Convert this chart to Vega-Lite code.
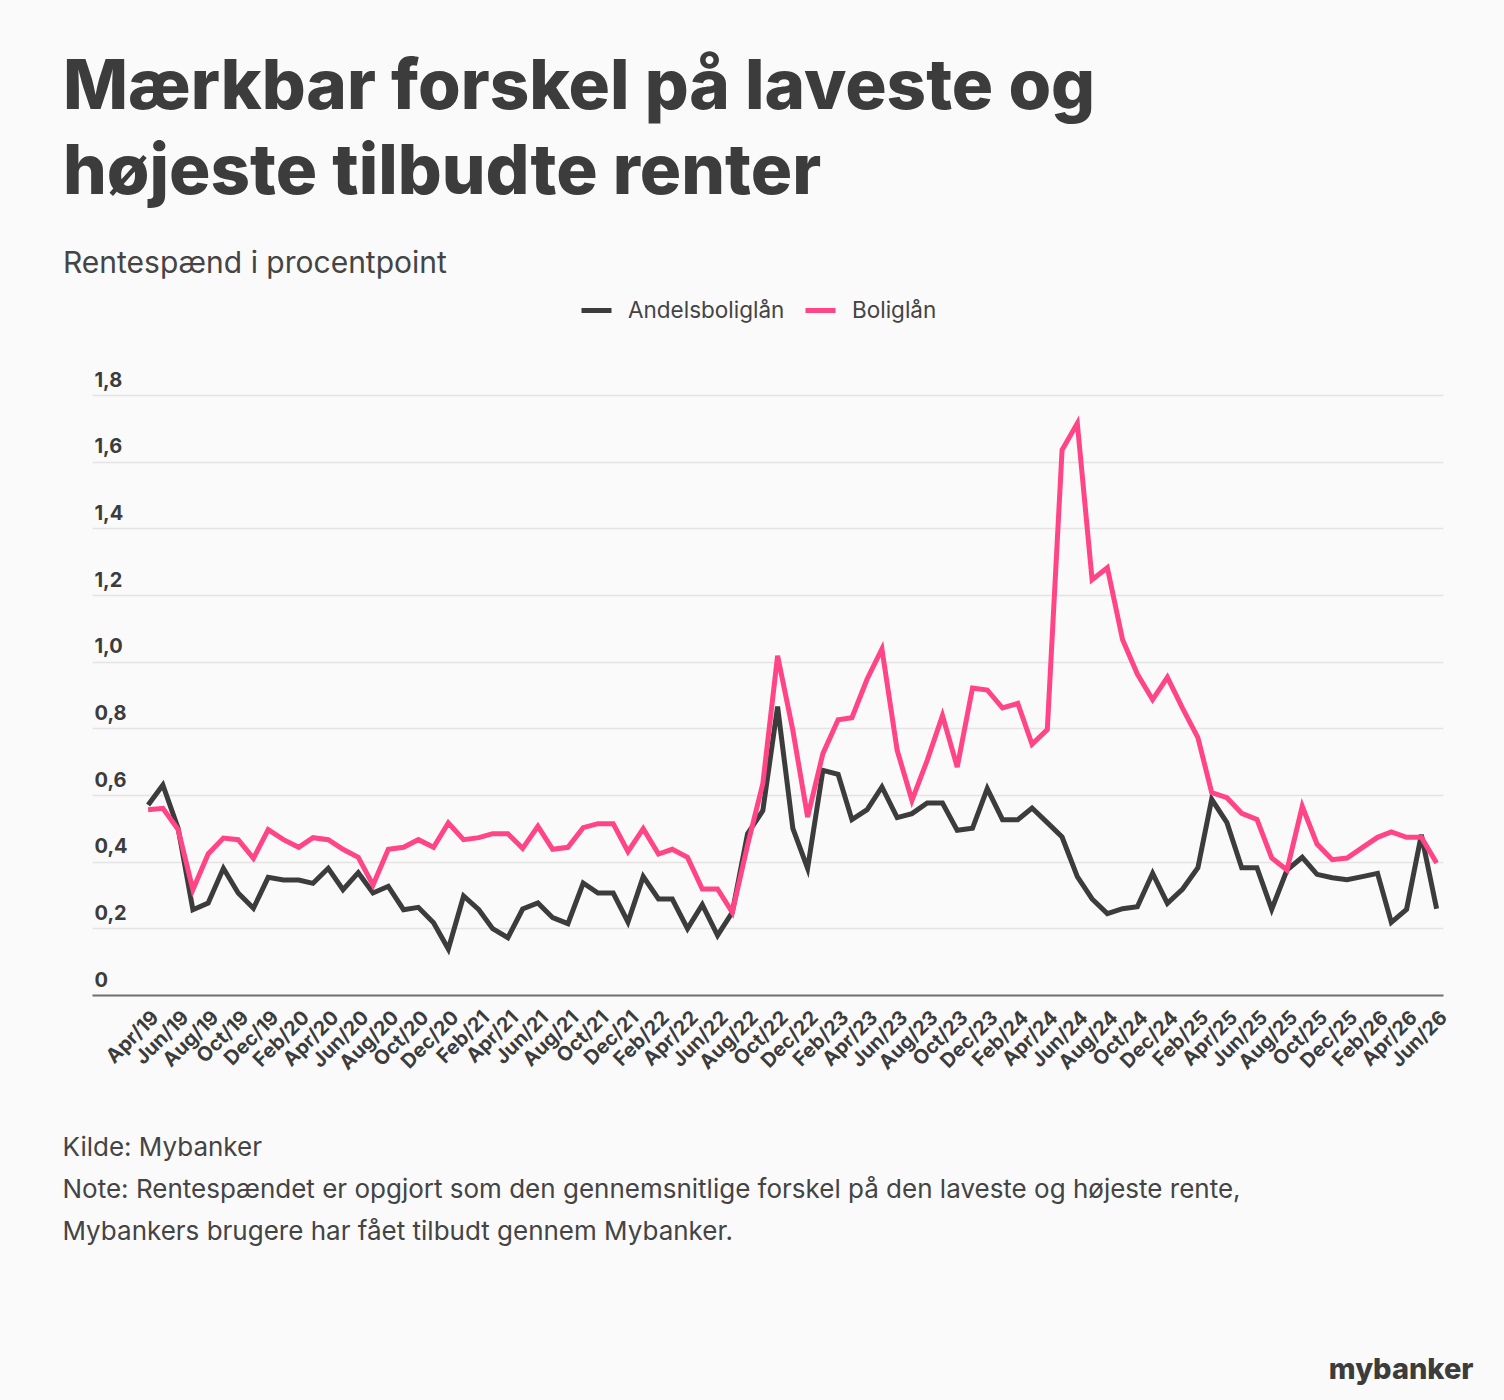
{
  "$schema": "https://vega.github.io/schema/vega-lite/v6.json",
  "width": 1351,
  "height": 600,
  "autosize": {"type": "none"},
  "padding": {"left": 92, "top": 395, "right": 61, "bottom": 405},
  "background": "#fafafa",
  "view": {"stroke": null},
  "title": {
    "text": ["Mærkbar forskel på laveste og", "højeste tilbudte renter"],
    "subtitle": "Rentespænd i procentpoint",
    "anchor": "start",
    "frame": "group",
    "dx": -29,
    "font": "Inter",
    "fontSize": 69,
    "fontWeight": 800,
    "color": "#3c3c3c",
    "lineHeight": 85,
    "subtitleFont": "Inter",
    "subtitleFontSize": 30,
    "subtitleFontWeight": "normal",
    "subtitleColor": "#444444",
    "subtitlePadding": 41,
    "offset": 14
  },
  "data": {
    "values": [
      {"date": "2019-04-01", "Andelsboliglån": 0.57, "Boliglån": 0.556},
      {"date": "2019-05-01", "Andelsboliglån": 0.63, "Boliglån": 0.56},
      {"date": "2019-06-01", "Andelsboliglån": 0.5, "Boliglån": 0.496},
      {"date": "2019-07-01", "Andelsboliglån": 0.256, "Boliglån": 0.316},
      {"date": "2019-08-01", "Andelsboliglån": 0.276, "Boliglån": 0.423},
      {"date": "2019-09-01", "Andelsboliglån": 0.38, "Boliglån": 0.471},
      {"date": "2019-10-01", "Andelsboliglån": 0.306, "Boliglån": 0.466},
      {"date": "2019-11-01", "Andelsboliglån": 0.26, "Boliglån": 0.41},
      {"date": "2019-12-01", "Andelsboliglån": 0.353, "Boliglån": 0.496},
      {"date": "2020-01-01", "Andelsboliglån": 0.345, "Boliglån": 0.466},
      {"date": "2020-02-01", "Andelsboliglån": 0.345, "Boliglån": 0.443},
      {"date": "2020-03-01", "Andelsboliglån": 0.335, "Boliglån": 0.472},
      {"date": "2020-04-01", "Andelsboliglån": 0.38, "Boliglån": 0.466},
      {"date": "2020-05-01", "Andelsboliglån": 0.316, "Boliglån": 0.437},
      {"date": "2020-06-01", "Andelsboliglån": 0.367, "Boliglån": 0.413},
      {"date": "2020-07-01", "Andelsboliglån": 0.306, "Boliglån": 0.33},
      {"date": "2020-08-01", "Andelsboliglån": 0.326, "Boliglån": 0.437},
      {"date": "2020-09-01", "Andelsboliglån": 0.256, "Boliglån": 0.443},
      {"date": "2020-10-01", "Andelsboliglån": 0.263, "Boliglån": 0.466},
      {"date": "2020-11-01", "Andelsboliglån": 0.217, "Boliglån": 0.443},
      {"date": "2020-12-01", "Andelsboliglån": 0.138, "Boliglån": 0.516},
      {"date": "2021-01-01", "Andelsboliglån": 0.297, "Boliglån": 0.466},
      {"date": "2021-02-01", "Andelsboliglån": 0.256, "Boliglån": 0.472},
      {"date": "2021-03-01", "Andelsboliglån": 0.199, "Boliglån": 0.484},
      {"date": "2021-04-01", "Andelsboliglån": 0.172, "Boliglån": 0.484},
      {"date": "2021-05-01", "Andelsboliglån": 0.258, "Boliglån": 0.44},
      {"date": "2021-06-01", "Andelsboliglån": 0.276, "Boliglån": 0.506},
      {"date": "2021-07-01", "Andelsboliglån": 0.232, "Boliglån": 0.437},
      {"date": "2021-08-01", "Andelsboliglån": 0.214, "Boliglån": 0.443},
      {"date": "2021-09-01", "Andelsboliglån": 0.336, "Boliglån": 0.502},
      {"date": "2021-10-01", "Andelsboliglån": 0.306, "Boliglån": 0.514},
      {"date": "2021-11-01", "Andelsboliglån": 0.306, "Boliglån": 0.514},
      {"date": "2021-12-01", "Andelsboliglån": 0.219, "Boliglån": 0.43},
      {"date": "2022-01-01", "Andelsboliglån": 0.355, "Boliglån": 0.499},
      {"date": "2022-02-01", "Andelsboliglån": 0.288, "Boliglån": 0.423},
      {"date": "2022-03-01", "Andelsboliglån": 0.288, "Boliglån": 0.437},
      {"date": "2022-04-01", "Andelsboliglån": 0.199, "Boliglån": 0.413},
      {"date": "2022-05-01", "Andelsboliglån": 0.271, "Boliglån": 0.318},
      {"date": "2022-06-01", "Andelsboliglån": 0.179, "Boliglån": 0.318},
      {"date": "2022-07-01", "Andelsboliglån": 0.248, "Boliglån": 0.248},
      {"date": "2022-08-01", "Andelsboliglån": 0.484, "Boliglån": 0.45},
      {"date": "2022-09-01", "Andelsboliglån": 0.553, "Boliglån": 0.634},
      {"date": "2022-10-01", "Andelsboliglån": 0.865, "Boliglån": 1.018},
      {"date": "2022-11-01", "Andelsboliglån": 0.5, "Boliglån": 0.794},
      {"date": "2022-12-01", "Andelsboliglån": 0.38, "Boliglån": 0.534},
      {"date": "2023-01-01", "Andelsboliglån": 0.674, "Boliglån": 0.724},
      {"date": "2023-02-01", "Andelsboliglån": 0.662, "Boliglån": 0.826},
      {"date": "2023-03-01", "Andelsboliglån": 0.526, "Boliglån": 0.832},
      {"date": "2023-04-01", "Andelsboliglån": 0.556, "Boliglån": 0.948},
      {"date": "2023-05-01", "Andelsboliglån": 0.624, "Boliglån": 1.038},
      {"date": "2023-06-01", "Andelsboliglån": 0.532, "Boliglån": 0.734},
      {"date": "2023-07-01", "Andelsboliglån": 0.544, "Boliglån": 0.584},
      {"date": "2023-08-01", "Andelsboliglån": 0.576, "Boliglån": 0.704},
      {"date": "2023-09-01", "Andelsboliglån": 0.576, "Boliglån": 0.838},
      {"date": "2023-10-01", "Andelsboliglån": 0.494, "Boliglån": 0.684},
      {"date": "2023-11-01", "Andelsboliglån": 0.5, "Boliglån": 0.921},
      {"date": "2023-12-01", "Andelsboliglån": 0.619, "Boliglån": 0.915},
      {"date": "2024-01-01", "Andelsboliglån": 0.526, "Boliglån": 0.861},
      {"date": "2024-02-01", "Andelsboliglån": 0.526, "Boliglån": 0.875},
      {"date": "2024-03-01", "Andelsboliglån": 0.561, "Boliglån": 0.752},
      {"date": "2024-04-01", "Andelsboliglån": 0.517, "Boliglån": 0.796},
      {"date": "2024-05-01", "Andelsboliglån": 0.474, "Boliglån": 1.635},
      {"date": "2024-06-01", "Andelsboliglån": 0.355, "Boliglån": 1.715},
      {"date": "2024-07-01", "Andelsboliglån": 0.288, "Boliglån": 1.246},
      {"date": "2024-08-01", "Andelsboliglån": 0.244, "Boliglån": 1.282},
      {"date": "2024-09-01", "Andelsboliglån": 0.259, "Boliglån": 1.066},
      {"date": "2024-10-01", "Andelsboliglån": 0.265, "Boliglån": 0.963},
      {"date": "2024-11-01", "Andelsboliglån": 0.365, "Boliglån": 0.886},
      {"date": "2024-12-01", "Andelsboliglån": 0.275, "Boliglån": 0.953},
      {"date": "2025-01-01", "Andelsboliglån": 0.318, "Boliglån": 0.86},
      {"date": "2025-02-01", "Andelsboliglån": 0.382, "Boliglån": 0.772},
      {"date": "2025-03-01", "Andelsboliglån": 0.587, "Boliglån": 0.607},
      {"date": "2025-04-01", "Andelsboliglån": 0.517, "Boliglån": 0.592},
      {"date": "2025-05-01", "Andelsboliglån": 0.382, "Boliglån": 0.545},
      {"date": "2025-06-01", "Andelsboliglån": 0.382, "Boliglån": 0.527},
      {"date": "2025-07-01", "Andelsboliglån": 0.257, "Boliglån": 0.411},
      {"date": "2025-08-01", "Andelsboliglån": 0.375, "Boliglån": 0.375},
      {"date": "2025-09-01", "Andelsboliglån": 0.413, "Boliglån": 0.566},
      {"date": "2025-10-01", "Andelsboliglån": 0.362, "Boliglån": 0.453},
      {"date": "2025-11-01", "Andelsboliglån": 0.352, "Boliglån": 0.406},
      {"date": "2025-12-01", "Andelsboliglån": 0.346, "Boliglån": 0.411},
      {"date": "2026-01-01", "Andelsboliglån": 0.355, "Boliglån": 0.442},
      {"date": "2026-02-01", "Andelsboliglån": 0.365, "Boliglån": 0.473},
      {"date": "2026-03-01", "Andelsboliglån": 0.218, "Boliglån": 0.489},
      {"date": "2026-04-01", "Andelsboliglån": 0.257, "Boliglån": 0.473},
      {"date": "2026-05-01", "Andelsboliglån": 0.481, "Boliglån": 0.473},
      {"date": "2026-06-01", "Andelsboliglån": 0.259, "Boliglån": 0.396}
    ]
  },
  "transform": [
    {"fold": ["Andelsboliglån", "Boliglån"], "as": ["serie", "value"]}
  ],
  "mark": {"type": "line", "strokeWidth": 5, "interpolate": "linear"},
  "encoding": {
    "x": {
      "field": "date",
      "type": "temporal",
      "scale": {
        "type": "utc",
        "domain": [
          {"year": 2018, "month": 12, "date": 8, "utc": true},
          {"year": 2026, "month": 6, "date": 14, "utc": true}
        ]
      },
      "axis": {
        "title": [
          "Kilde: Mybanker",
          "Note: Rentespændet er opgjort som den gennemsnitlige forskel på den laveste og højeste rente,",
          "Mybankers brugere har fået tilbudt gennem Mybanker."
        ],
        "titleFont": "Inter",
        "titleFontSize": 26,
        "titleFontWeight": "normal",
        "titleColor": "#444444",
        "titleAlign": "left",
        "titleAnchor": "start",
        "titleBaseline": "alphabetic",
        "titleX": -30,
        "titleY": 160,
        "titleLineHeight": 42,
        "values": [
          {"year": 2019, "month": 4, "date": 1, "utc": true},
          {"year": 2019, "month": 6, "date": 1, "utc": true},
          {"year": 2019, "month": 8, "date": 1, "utc": true},
          {"year": 2019, "month": 10, "date": 1, "utc": true},
          {"year": 2019, "month": 12, "date": 1, "utc": true},
          {"year": 2020, "month": 2, "date": 1, "utc": true},
          {"year": 2020, "month": 4, "date": 1, "utc": true},
          {"year": 2020, "month": 6, "date": 1, "utc": true},
          {"year": 2020, "month": 8, "date": 1, "utc": true},
          {"year": 2020, "month": 10, "date": 1, "utc": true},
          {"year": 2020, "month": 12, "date": 1, "utc": true},
          {"year": 2021, "month": 2, "date": 1, "utc": true},
          {"year": 2021, "month": 4, "date": 1, "utc": true},
          {"year": 2021, "month": 6, "date": 1, "utc": true},
          {"year": 2021, "month": 8, "date": 1, "utc": true},
          {"year": 2021, "month": 10, "date": 1, "utc": true},
          {"year": 2021, "month": 12, "date": 1, "utc": true},
          {"year": 2022, "month": 2, "date": 1, "utc": true},
          {"year": 2022, "month": 4, "date": 1, "utc": true},
          {"year": 2022, "month": 6, "date": 1, "utc": true},
          {"year": 2022, "month": 8, "date": 1, "utc": true},
          {"year": 2022, "month": 10, "date": 1, "utc": true},
          {"year": 2022, "month": 12, "date": 1, "utc": true},
          {"year": 2023, "month": 2, "date": 1, "utc": true},
          {"year": 2023, "month": 4, "date": 1, "utc": true},
          {"year": 2023, "month": 6, "date": 1, "utc": true},
          {"year": 2023, "month": 8, "date": 1, "utc": true},
          {"year": 2023, "month": 10, "date": 1, "utc": true},
          {"year": 2023, "month": 12, "date": 1, "utc": true},
          {"year": 2024, "month": 2, "date": 1, "utc": true},
          {"year": 2024, "month": 4, "date": 1, "utc": true},
          {"year": 2024, "month": 6, "date": 1, "utc": true},
          {"year": 2024, "month": 8, "date": 1, "utc": true},
          {"year": 2024, "month": 10, "date": 1, "utc": true},
          {"year": 2024, "month": 12, "date": 1, "utc": true},
          {"year": 2025, "month": 2, "date": 1, "utc": true},
          {"year": 2025, "month": 4, "date": 1, "utc": true},
          {"year": 2025, "month": 6, "date": 1, "utc": true},
          {"year": 2025, "month": 8, "date": 1, "utc": true},
          {"year": 2025, "month": 10, "date": 1, "utc": true},
          {"year": 2025, "month": 12, "date": 1, "utc": true},
          {"year": 2026, "month": 2, "date": 1, "utc": true},
          {"year": 2026, "month": 4, "date": 1, "utc": true},
          {"year": 2026, "month": 6, "date": 1, "utc": true}
        ],
        "labelExpr": "utcFormat(datum.value, '%b/%y')",
        "labelAngle": -45,
        "labelAlign": "right",
        "labelBaseline": "top",
        "labelPadding": 12,
        "labelFont": "Inter",
        "labelFontSize": 20,
        "labelFontWeight": "bold",
        "labelColor": "#3c3c3c",
        "labelOverlap": false,
        "labelBound": false,
        "labelFlush": false,
        "ticks": false,
        "grid": false,
        "domainColor": "#707070",
        "domainWidth": 2
      }
    },
    "y": {
      "field": "value",
      "type": "quantitative",
      "scale": {"domain": [0, 1.8], "nice": false},
      "axis": {
        "title": "mybanker",
        "titleFont": "Inter",
        "titleFontSize": 29,
        "titleFontWeight": 800,
        "titleColor": "#3c3c3c",
        "titleAngle": 0,
        "titleAlign": "right",
        "titleBaseline": "alphabetic",
        "titleX": 1381,
        "titleY": 983,
        "values": [0, 0.2, 0.4, 0.6, 0.8, 1, 1.2, 1.4, 1.6, 1.8],
        "labelExpr": "datum.value == 0 ? '0' : replace(format(datum.value, '.1f'), '.', ',')",
        "labelAlign": "left",
        "labelBaseline": "bottom",
        "labelPadding": -2,
        "labelOffset": -5,
        "labelFont": "Inter",
        "labelFontSize": 20,
        "labelFontWeight": "bold",
        "labelColor": "#3c3c3c",
        "ticks": false,
        "domain": false,
        "grid": true,
        "gridColor": "#e4e4e4",
        "gridWidth": 1.5
      }
    },
    "color": {
      "field": "serie",
      "type": "nominal",
      "scale": {
        "domain": ["Andelsboliglån", "Boliglån"],
        "range": ["#3c3c3c", "#ff4586"]
      },
      "legend": {
        "title": null,
        "orient": "none",
        "direction": "horizontal",
        "legendX": 487,
        "legendY": -102,
        "symbolType": "stroke",
        "symbolSize": 900,
        "symbolStrokeWidth": 5,
        "labelFont": "Inter",
        "labelFontSize": 22.5,
        "labelColor": "#444444",
        "labelOffset": 14,
        "columnSpacing": 27
      }
    }
  }
}
